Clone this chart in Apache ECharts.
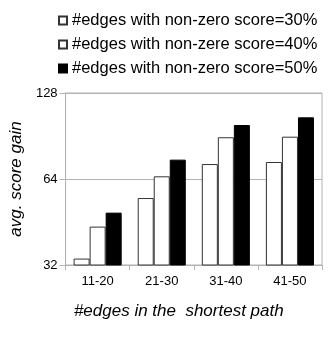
<!DOCTYPE html>
<html>
<head>
<meta charset="utf-8">
<script src="https://cdn.jsdelivr.net/npm/echarts@6/dist/echarts.min.js"></script>
<style>html,body{margin:0;padding:0;background:#fff}#c{width:329px;height:341px}</style>
</head>
<body>
<div id="c"></div>
<script>
const categories = ['11-20', '21-30', '31-40', '41-50'];
const seriesNames = ['#edges with non-zero score=30%', '#edges with non-zere score=40%', '#edges with non-zero score=50%'];
const values30 = [33.7, 54.9, 72.2, 73.4];
const values40 = [43.6, 65.4, 89.6, 90.0];
const values50 = [48.8, 74.8, 98.9, 105.2];
const yTicks = [32, 64, 128];

const chart = echarts.init(document.getElementById('c'), null, {renderer: 'canvas'});
const font = 'Liberation Sans, Arial, sans-serif';
const fills = ['#ffffff', '#ffffff', '#000000'];
const data = [values30, values40, values50];
chart.setOption({
  animation: false,
  textStyle: {fontFamily: font},
  legend: {
    orient: 'vertical',
    left: 53, top: 7,
    itemWidth: 8, itemHeight: 8,
    itemGap: 7,
    icon: 'rect',
    textStyle: {fontSize: 16.5, color: '#000', fontFamily: font},
    data: seriesNames
  },
  grid: {left: 65, right: 7, top: 93, bottom: 76, show: true, borderColor: '#b3b3b3', borderWidth: 1},
  xAxis: {
    type: 'category',
    data: categories,
    name: '#edges in the  shortest path',
    nameLocation: 'middle',
    nameGap: 38,
    nameTextStyle: {fontSize: 17, fontStyle: 'italic', color: '#000', fontFamily: font, padding: [0, 30, 0, 0]},
    axisLine: {lineStyle: {color: '#b3b3b3'}},
    axisTick: {show: true, length: 5, lineStyle: {color: '#b3b3b3'}},
    axisLabel: {fontSize: 13, color: '#000', margin: 10}
  },
  yAxis: {
    type: 'log',
    logBase: 2,
    min: 32, max: 128,
    name: 'avg. score gain',
    nameLocation: 'middle',
    nameGap: 23,
    nameRotate: 90,
    nameTextStyle: {fontSize: 17, fontStyle: 'italic', color: '#000', fontFamily: font},
    axisLine: {show: true, lineStyle: {color: '#b3b3b3'}},
    axisTick: {show: true, length: 6, lineStyle: {color: '#b3b3b3'}},
    splitLine: {lineStyle: {color: '#b3b3b3'}},
    axisLabel: {fontSize: 13, color: '#000', margin: 8,
      formatter: v => yTicks.includes(Math.round(v)) ? String(Math.round(v)) : ''}
  },
  series: seriesNames.map((n, i) => ({
    name: n,
    type: 'bar',
    data: data[i],
    barGap: '0%',
    barCategoryGap: '25%',
    itemStyle: {color: fills[i], borderColor: i === 2 ? '#000' : '#333', borderWidth: 1}
  }))
});
</script>
</body>
</html>
